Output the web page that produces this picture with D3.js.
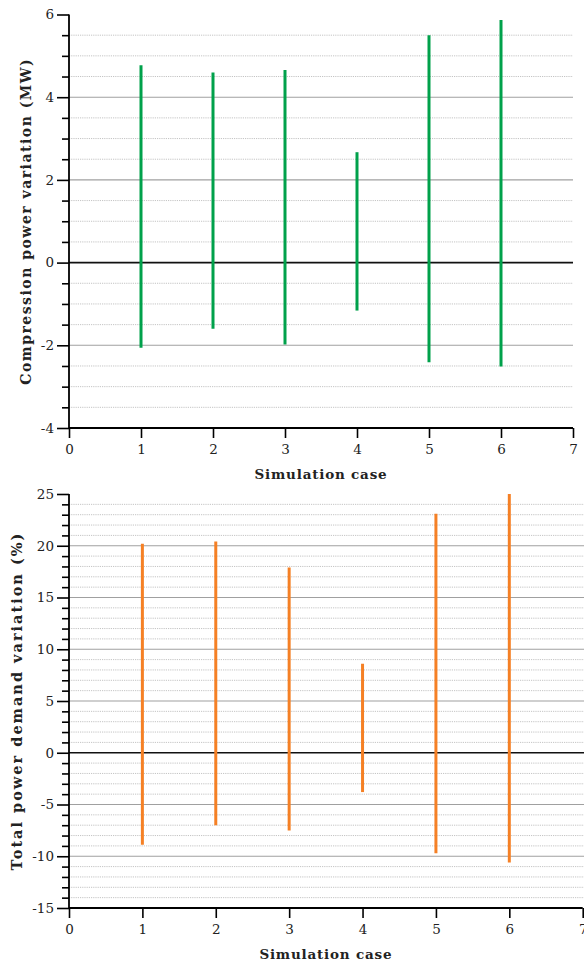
<!DOCTYPE html>
<html>
<head>
<meta charset="utf-8">
<script src="https://cdn.jsdelivr.net/npm/d3@7"></script>
<style>
  body { margin: 0; background: #fff; }
  svg { display: block; }
  text { font-family: "DejaVu Serif", "Liberation Serif", serif; fill: #222; }
</style>
</head>
<body>
<svg id="chart" width="584" height="968"></svg>
<script>
// ---------- data ----------
const cases = [1, 2, 3, 4, 5, 6];
const compMax = [4.77, 4.60, 4.66, 2.67, 5.50, 5.87];
const compMin = [-2.06, -1.60, -1.98, -1.16, -2.41, -2.51];
const totalMax = [20.2, 20.4, 17.9, 8.6, 23.1, 25.0];
const totalMin = [-8.9, -7.0, -7.5, -3.8, -9.7, -10.6];
const xTicks = [0, 1, 2, 3, 4, 5, 6, 7];
const compTicks = [-4, -2, 0, 2, 4, 6];
const totalTicks = [-15, -10, -5, 0, 5, 10, 15, 20, 25];

const svg = d3.select("#chart");

function panel(opts) {
  const g = svg.append("g");
  const x = d3.scaleLinear().domain([0, 7]).range([opts.x0, opts.x1]);
  const y = d3.scaleLinear().domain(opts.yDomain).range([opts.yBottom, opts.yTop]);
  const [ymin, ymax] = opts.yDomain;

  // minor gridlines (dotted)
  const minor = d3.range(ymin, ymax + 1e-9, opts.minorStep)
    .filter(v => Math.abs(v % opts.majorStep) > 1e-6 && Math.abs(Math.abs(v % opts.majorStep) - opts.majorStep) > 1e-6);
  g.append("g").selectAll("line").data(minor).join("line")
    .attr("x1", opts.x0).attr("x2", opts.gridEnd)
    .attr("y1", d => y(d)).attr("y2", d => y(d))
    .attr("stroke", "#c4c4c4").attr("stroke-width", 1).attr("stroke-dasharray", "1.2,1");

  // major gridlines (solid)
  const major = opts.ticks.filter(v => v !== 0 && v !== ymin && v !== ymax);
  g.append("g").selectAll("line").data(major).join("line")
    .attr("x1", opts.x0).attr("x2", opts.gridEnd)
    .attr("y1", d => y(d)).attr("y2", d => y(d))
    .attr("stroke", "#a0a0a0").attr("stroke-width", 1.1);

  // zero line
  g.append("line")
    .attr("x1", opts.x0).attr("x2", opts.gridEnd)
    .attr("y1", y(0)).attr("y2", y(0))
    .attr("stroke", "#111").attr("stroke-width", 1.6);

  // bars
  g.append("g").selectAll("line").data(cases).join("line")
    .attr("x1", (d) => x(d)).attr("x2", (d) => x(d))
    .attr("y1", (d, i) => y(opts.max[i])).attr("y2", (d, i) => y(opts.min[i]))
    .attr("stroke", opts.color).attr("stroke-width", 3);

  // y axis
  const yAxis = d3.axisLeft(y).tickValues(opts.ticks).tickSize(12).tickPadding(3)
    .tickFormat(d => String(d));
  const ya = g.append("g").attr("transform", `translate(${opts.x0},0)`).call(yAxis);
  const yMinorAxis = d3.axisLeft(y).tickValues(minor).tickSize(7).tickFormat("");
  const ym = g.append("g").attr("transform", `translate(${opts.x0},0)`).call(yMinorAxis);
  [ya, ym].forEach(a => {
    a.select(".domain").remove();
    a.selectAll(".tick line").attr("stroke", "#000").attr("stroke-width", 1.6);
  });
  ya.selectAll(".tick text").attr("font-size", 13.5).attr("fill", "#222")
    .style("font-family", "'DejaVu Serif', serif");
  g.append("line").attr("x1", opts.x0).attr("x2", opts.x0)
    .attr("y1", opts.yTop).attr("y2", opts.yBottom)
    .attr("stroke", "#000").attr("stroke-width", 1.8);

  // x axis
  const xAxis = d3.axisBottom(x).tickValues(xTicks).tickSize(10).tickPadding(6)
    .tickFormat(d => String(d));
  const xa = g.append("g").attr("transform", `translate(0,${opts.yBottom})`).call(xAxis);
  xa.select(".domain").remove();
  xa.selectAll(".tick line").attr("stroke", "#000").attr("stroke-width", 1.6);
  xa.selectAll(".tick text").attr("font-size", 13.5).attr("fill", "#222")
    .style("font-family", "'DejaVu Serif', serif");
  g.append("line").attr("x1", opts.x0).attr("x2", opts.x1)
    .attr("y1", opts.yBottom).attr("y2", opts.yBottom)
    .attr("stroke", "#000").attr("stroke-width", 1.8);

  // labels
  g.append("text")
    .attr("x", (opts.x0 + opts.x1) / 2).attr("y", opts.yBottom + 51)
    .attr("text-anchor", "middle").attr("font-weight", "bold").attr("font-size", 13.5)
    .style("letter-spacing", "0.8px")
    .text("Simulation case");
  g.append("text")
    .attr("transform", `translate(${opts.ylabelX},${(opts.yTop + opts.yBottom) / 2}) rotate(-90)`)
    .attr("text-anchor", "middle").attr("font-weight", "bold").attr("font-size", opts.ylabelSize)
    .style("letter-spacing", opts.ylabelSpacing)
    .text(opts.ylabel);
}

panel({
  x0: 69, x1: 573, gridEnd: 573,
  yTop: 14.5, yBottom: 428, yDomain: [-4, 6],
  ticks: compTicks, majorStep: 2, minorStep: 0.5,
  max: compMax, min: compMin, color: "#00a14b",
  ylabel: "Compression power variation (MW)", ylabelX: 31, ylabelSize: 14,
  ylabelSpacing: "1.5px"
});

panel({
  x0: 69, x1: 582.7, gridEnd: 584,
  yTop: 494, yBottom: 908, yDomain: [-15, 25],
  ticks: totalTicks, majorStep: 5, minorStep: 1,
  max: totalMax, min: totalMin, color: "#f58025",
  ylabel: "Total power demand variation (%)", ylabelX: 22, ylabelSize: 14.5,
  ylabelSpacing: "2px"
});
</script>
</body>
</html>
